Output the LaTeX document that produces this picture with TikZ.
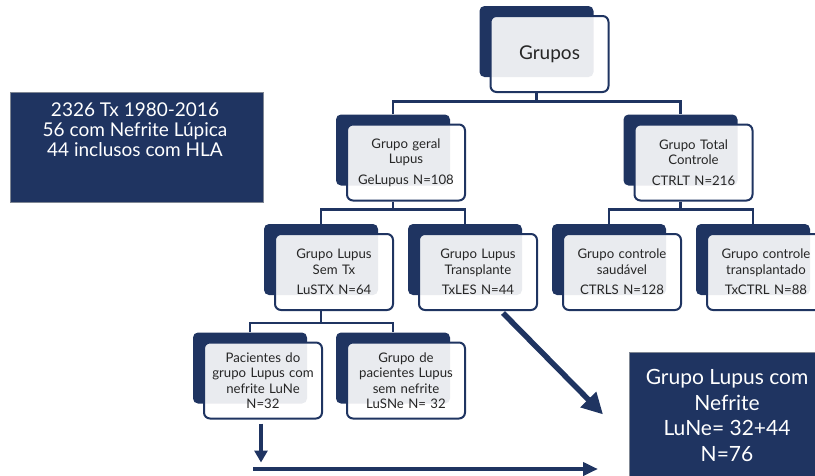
\documentclass[tikz,border=0pt]{standalone}
\usepackage{fontspec}
\setmainfont{Lato}
\usetikzlibrary{arrows.meta,calc}
\definecolor{navy}{HTML}{1F3461}
\definecolor{ink}{HTML}{262626}
\definecolor{rim}{HTML}{7F8794}

% a group box: dark card behind, translucent white card in front
\newcommand\groupbox[4]{%
  \node[back] (#1-b) at (#2,#3) {};
  \node[front] (#1) at ($(#2,#3)+(13,12.5)$) {#4};
}

\begin{document}
\begin{tikzpicture}[x=1pt,y=-1pt,
  back/.style={fill=navy, rounded corners=5pt, minimum width=114pt,
    minimum height=71pt, inner sep=0pt},
  front/.style={draw=navy, line width=2pt, fill=white, fill opacity=0.9,
    text opacity=1, rounded corners=6pt, minimum width=118pt,
    minimum height=76pt, text width=114pt, align=center, inner sep=0pt,
    font=\fontsize{13.2}{15.5}\selectfont, text=ink},
  conn/.style={draw=navy, line width=2.5pt},
  darkbox/.style={fill=navy, draw=rim, line width=0.8pt, inner sep=0pt,
    anchor=north west},
  boxtext/.style={text=white, align=center, inner sep=0pt},
  arrowline/.style={draw=navy, line width=#1},
]
\useasboundingbox (0,0) rectangle (815,475);
\clip (0,0) rectangle (815,475);

% summary of the cohort
\node[darkbox, minimum width=253pt, minimum height=110pt] (cohort) at (10,92) {};
\node[boxtext, font=\fontsize{19}{20}\selectfont] (cohorttxt) at (135,130)
  {2326 Tx 1980-2016\\56 com Nefrite Lúpica\\44 inclusos com HLA};

% tree of groups
\groupbox{grupos}{536.5}{41.5}{\fontsize{19}{20}\selectfont Grupos}
\groupbox{geral}{393}{150}{Grupo geral\\Lupus\\[5pt]GeLupus N=108}
\groupbox{total}{680.5}{150}{Grupo Total\\Controle\\[5pt]CTRLT N=216}
\groupbox{lustx}{321}{259.5}{Grupo Lupus\\Sem Tx\\[5pt]LuSTX N=64}
\groupbox{txles}{465}{259.5}{Grupo Lupus\\Transplante\\[5pt]TxLES N=44}
\groupbox{ctrls}{609}{259.5}{Grupo controle\\saudável\\[5pt]CTRLS N=128}
\groupbox{txctrl}{753}{259.5}{Grupo controle\\transplantado\\[5pt]TxCTRL N=88}
\groupbox{lune}{250}{368}{Pacientes do\\grupo Lupus com\\nefrite LuNe\\N=32}
\groupbox{lusne}{393}{368}{Grupo de\\pacientes Lupus\\sem nefrite\\LuSNe N= 32}

% combined nephritis group
\node[darkbox, minimum width=192pt, minimum height=126pt] (lunetot) at (629,352) {};
\node[boxtext, font=\fontsize{21}{25.5}\selectfont] (lunetottxt) at (727,415.5)
  {Grupo Lupus com\\Nefrite\\LuNe= 32+44\\N=76};

% connectors
\draw[conn] (grupos.south -| grupos-b.south) -- ++(0,8.5) coordinate (bus1);
\draw[conn] (geral-b.north) |- (bus1) -| (total-b.north);
\draw[conn] (geral.south -| geral-b.south) -- ++(0,8) coordinate (bus2);
\draw[conn] (lustx-b.north) |- (bus2) -| (txles-b.north);
\draw[conn] (total.south -| total-b.south) -- ++(0,8) coordinate (bus3);
\draw[conn] (ctrls-b.north) |- (bus3) -| (txctrl-b.north);
\draw[conn] (lustx.south -| lustx-b.south) -- ++(0,12) coordinate (bus4);
\draw[conn] (lune-b.north) |- (bus4) -| (lusne-b.north);

% arrows into the combined group
\coordinate (diagend) at ($(lunetot.west)+(-26,-1)$);
\draw[arrowline=5.5pt, -{Triangle[length=21pt,width=21pt]}]
  ($(txles.south)+(25,2)$) -- (diagend);
\draw[arrowline=4.5pt, -{Triangle[length=12pt,width=13pt]}]
  ($(lune.south)+(-2,4)$) -- ++(0,39);
\coordinate (hstart) at (253,469);
\coordinate (hend) at ($(lunetot.west |- hstart)+(-31,0)$);
\draw[arrowline=4pt, -{Triangle[length=15pt,width=13pt]}] (hstart) -- (hend);
\end{tikzpicture}
\end{document}
